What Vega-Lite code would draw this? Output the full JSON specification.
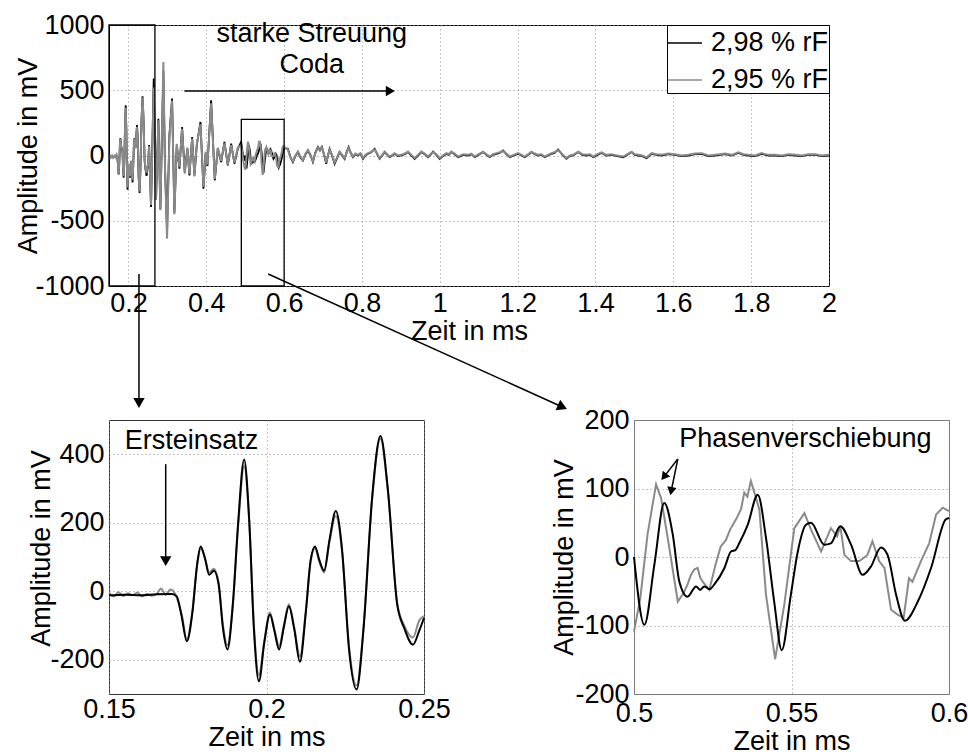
{
  "$schema": "https://vega.github.io/schema/vega-lite/v6.json",
  "padding": {"left": 13, "top": 10, "right": 0, "bottom": 0},
  "background": "white",
  "config": {
    "font": "Liberation Sans",
    "view": {"stroke": "black", "strokeWidth": 1},
    "axis": {
      "labelFont": "Liberation Sans", "titleFont": "Liberation Sans",
      "labelFontSize": 27, "titleFontSize": 27, "labelColor": "black", "titleColor": "black",
      "titleFontWeight": "normal", "domain": false, "ticks": false, "grid": true,
      "gridColor": "#888888", "gridDash": [1, 3], "gridWidth": 1, "labelPadding": 5,
      "labelFlush": false, "labelOverlap": false, "titleBaseline": "middle",
      "labelExpr": "'' + datum.value"
    }
  },
  "datasets": {
    "black": [
      {"t":0.150,"a":-12},{"t":0.155,"a":-10},{"t":0.160,"a":-12},{"t":0.165,"a":-9},{"t":0.170,"a":-8},{"t":0.1715,"a":-15},{"t":0.1730,"a":-70},{"t":0.1747,"a":-146},{"t":0.1765,"a":-60},{"t":0.1780,"a":80},{"t":0.1791,"a":131},{"t":0.1805,"a":95},{"t":0.1818,"a":48},{"t":0.1833,"a":60},{"t":0.1848,"a":20},{"t":0.1862,"a":-110},{"t":0.1876,"a":-170},{"t":0.1893,"a":-40},{"t":0.1910,"a":200},{"t":0.1929,"a":385},{"t":0.1945,"a":210},{"t":0.1960,"a":-110},{"t":0.1976,"a":-263},{"t":0.1993,"a":-150},{"t":0.2011,"a":-68},{"t":0.2025,"a":-115},{"t":0.2040,"a":-170},{"t":0.2055,"a":-105},{"t":0.2071,"a":-44},{"t":0.2088,"a":-110},{"t":0.2106,"a":-206},{"t":0.2125,"a":-60},{"t":0.2140,"a":90},{"t":0.2154,"a":131},{"t":0.2168,"a":90},{"t":0.2183,"a":60},{"t":0.2200,"a":150},{"t":0.2220,"a":234},{"t":0.2240,"a":120},{"t":0.2262,"a":-170},{"t":0.2286,"a":-287},{"t":0.2308,"a":-110},{"t":0.2335,"a":270},{"t":0.2362,"a":453},{"t":0.2385,"a":300},{"t":0.2415,"a":-39},{"t":0.2437,"a":-107},{"t":0.2465,"a":-156},{"t":0.2485,"a":-115},{"t":0.2500,"a":-78},
      {"t":0.2530,"a":80},{"t":0.2580,"a":-395},{"t":0.2649,"a":589},{"t":0.2709,"a":-331},{"t":0.2769,"a":282},{"t":0.2820,"a":-409},{"t":0.2897,"a":650},{"t":0.2940,"a":-101},{"t":0.2992,"a":-580},{"t":0.3052,"a":155},{"t":0.3121,"a":436},{"t":0.3180,"a":-437},{"t":0.3241,"a":78},{"t":0.3309,"a":-101},{"t":0.3378,"a":218},{"t":0.3446,"a":-126},{"t":0.3515,"a":52},{"t":0.3567,"a":-152},{"t":0.3636,"a":141},{"t":0.3695,"a":-152},{"t":0.3755,"a":78},{"t":0.3850,"a":257},{"t":0.3927,"a":-254},{"t":0.3985,"a":20},{"t":0.4030,"a":-80},{"t":0.4124,"a":423},{"t":0.4218,"a":-190},{"t":0.4296,"a":52},{"t":0.4381,"a":-50},{"t":0.4467,"a":104},{"t":0.4553,"a":-76},{"t":0.4638,"a":90},{"t":0.4724,"a":-63},{"t":0.4810,"a":52},{"t":0.4896,"a":104},{"t":0.4960,"a":-40},
      {"t":0.5000,"a":0},{"t":0.5033,"a":-99},{"t":0.5065,"a":-10},{"t":0.5096,"a":79},{"t":0.5123,"a":33},{"t":0.5144,"a":-36},{"t":0.5170,"a":-58},{"t":0.5197,"a":-43},{"t":0.5210,"a":-48},{"t":0.5223,"a":-43},{"t":0.5240,"a":-47},{"t":0.5255,"a":-40},{"t":0.5287,"a":-16},{"t":0.5308,"a":8},{"t":0.5322,"a":10},{"t":0.5334,"a":20},{"t":0.5361,"a":47},{"t":0.5393,"a":91},{"t":0.5419,"a":28},{"t":0.5445,"a":-65},{"t":0.5469,"a":-136},{"t":0.5498,"a":-55},{"t":0.5520,"a":8},{"t":0.5546,"a":47},{"t":0.5562,"a":50},{"t":0.5604,"a":18},{"t":0.5625,"a":20},{"t":0.5655,"a":45},{"t":0.5689,"a":18},{"t":0.5726,"a":-26},{"t":0.5752,"a":-14},{"t":0.5784,"a":14},{"t":0.5805,"a":3},{"t":0.5832,"a":-55},{"t":0.5860,"a":-93},{"t":0.5901,"a":-65},{"t":0.5943,"a":-16},{"t":0.5990,"a":55},{"t":0.6000,"a":57},
      {"t":0.6097,"a":52},{"t":0.6160,"a":-10},{"t":0.6225,"a":-50},{"t":0.6290,"a":-5},{"t":0.6354,"a":26},{"t":0.6420,"a":-15},{"t":0.6483,"a":-38},{"t":0.6550,"a":10},{"t":0.6611,"a":38},{"t":0.6680,"a":0},{"t":0.6740,"a":-50},{"t":0.6800,"a":20},{"t":0.6868,"a":65},{"t":0.6920,"a":40},{"t":0.6971,"a":65},{"t":0.7030,"a":0},{"t":0.7082,"a":-64},{"t":0.7120,"a":-10},{"t":0.7168,"a":51},{"t":0.7230,"a":0},{"t":0.7297,"a":-64},{"t":0.7360,"a":-20},{"t":0.7425,"a":26},{"t":0.7490,"a":0},{"t":0.7554,"a":-26},{"t":0.7600,"a":20},{"t":0.7657,"a":65},{"t":0.7710,"a":20},{"t":0.7768,"a":-13},{"t":0.7830,"a":10},{"t":0.7897,"a":0},{"t":0.7960,"a":15},{"t":0.8025,"a":-26},{"t":0.8090,"a":0},{"t":0.8154,"a":13},{"t":0.8240,"a":25},{"t":0.8325,"a":51},{"t":0.8390,"a":10},{"t":0.8454,"a":-26},{"t":0.8520,"a":0},{"t":0.8583,"a":26},{"t":0.8650,"a":5},{"t":0.8711,"a":-13},{"t":0.8780,"a":0},{"t":0.8840,"a":13},{"t":0.8920,"a":-5},{"t":0.9011,"a":0},{"t":0.9100,"a":10},{"t":0.9183,"a":26},{"t":0.9270,"a":0},{"t":0.9354,"a":-26},{"t":0.9440,"a":0},{"t":0.9526,"a":26},{"t":0.9610,"a":10},{"t":0.9697,"a":-13},{"t":0.9760,"a":5},{"t":0.9826,"a":30},{"t":0.9910,"a":5},{"t":0.9997,"a":-26},{"t":1.0080,"a":-5},{"t":1.0169,"a":13},{"t":1.0230,"a":5},{"t":1.0297,"a":26},{"t":1.0380,"a":10},{"t":1.0469,"a":-13},{"t":1.0600,"a":5},{"t":1.0726,"a":0},{"t":1.0810,"a":10},{"t":1.0897,"a":-13},{"t":1.1000,"a":5},{"t":1.1111,"a":26},{"t":1.1200,"a":5},{"t":1.1283,"a":-13},{"t":1.1370,"a":5},{"t":1.1454,"a":13},{"t":1.1540,"a":20},{"t":1.1626,"a":38},{"t":1.1710,"a":10},{"t":1.1797,"a":-13},{"t":1.1900,"a":0},{"t":1.2011,"a":13},{"t":1.2100,"a":0},{"t":1.2183,"a":-13},{"t":1.2270,"a":5},{"t":1.2354,"a":26},{"t":1.2440,"a":10},{"t":1.2526,"a":0},{"t":1.2610,"a":5},{"t":1.2697,"a":-13},{"t":1.2780,"a":0},{"t":1.2868,"a":13},{"t":1.2950,"a":20},{"t":1.3040,"a":46},{"t":1.3150,"a":5},{"t":1.3254,"a":-26},{"t":1.3340,"a":-5},{"t":1.3426,"a":0},{"t":1.3556,"a":26},{"t":1.3660,"a":5},{"t":1.3771,"a":0},{"t":1.3860,"a":5},{"t":1.3942,"a":-13},{"t":1.4050,"a":5},{"t":1.4156,"a":20},{"t":1.4280,"a":0},{"t":1.4414,"a":5},{"t":1.4560,"a":-5},{"t":1.4714,"a":-13},{"t":1.4820,"a":5},{"t":1.4928,"a":26},{"t":1.5010,"a":5},{"t":1.5100,"a":0},{"t":1.5200,"a":-5},{"t":1.5314,"a":-20},{"t":1.5443,"a":13},{"t":1.5570,"a":5},{"t":1.5700,"a":0},{"t":1.5870,"a":10},{"t":1.6043,"a":5},{"t":1.6210,"a":-5},{"t":1.6386,"a":0},{"t":1.6560,"a":10},{"t":1.6729,"a":13},{"t":1.6900,"a":-5},{"t":1.7072,"a":0},{"t":1.7200,"a":5},{"t":1.7329,"a":10},{"t":1.7500,"a":0},{"t":1.7672,"a":20},{"t":1.7800,"a":5},{"t":1.7929,"a":0},{"t":1.8100,"a":-5},{"t":1.8272,"a":13},{"t":1.8440,"a":0},{"t":1.8615,"a":0},{"t":1.8790,"a":-5},{"t":1.8958,"a":5},{"t":1.9130,"a":0},{"t":1.9301,"a":-5},{"t":1.9470,"a":5},{"t":1.9644,"a":5},{"t":1.9820,"a":-5},{"t":2.0000,"a":0}
    ],
    "gray": [
      {"t":0.150,"a":-5},{"t":0.1515,"a":-15},{"t":0.153,"a":-3},{"t":0.1545,"a":-14},{"t":0.156,"a":-6},{"t":0.1575,"a":-12},{"t":0.159,"a":-4},{"t":0.1605,"a":-15},{"t":0.162,"a":-8},{"t":0.1635,"a":-13},{"t":0.165,"a":-10},{"t":0.1665,"a":8},{"t":0.168,"a":-10},{"t":0.1695,"a":5},{"t":0.171,"a":-8},{"t":0.1730,"a":-65},{"t":0.1747,"a":-140},{"t":0.1765,"a":-55},{"t":0.1780,"a":78},{"t":0.1791,"a":125},{"t":0.1805,"a":95},{"t":0.1818,"a":55},{"t":0.1833,"a":66},{"t":0.1848,"a":25},{"t":0.1862,"a":-100},{"t":0.1876,"a":-158},{"t":0.1893,"a":-40},{"t":0.1910,"a":190},{"t":0.1929,"a":365},{"t":0.1945,"a":205},{"t":0.1960,"a":-100},{"t":0.1976,"a":-245},{"t":0.1993,"a":-145},{"t":0.2011,"a":-62},{"t":0.2025,"a":-112},{"t":0.2040,"a":-160},{"t":0.2055,"a":-100},{"t":0.2071,"a":-38},{"t":0.2088,"a":-105},{"t":0.2106,"a":-190},{"t":0.2125,"a":-55},{"t":0.2140,"a":85},{"t":0.2154,"a":125},{"t":0.2168,"a":85},{"t":0.2183,"a":55},{"t":0.2200,"a":145},{"t":0.2220,"a":220},{"t":0.2240,"a":115},{"t":0.2262,"a":-160},{"t":0.2286,"a":-275},{"t":0.2308,"a":-105},{"t":0.2335,"a":265},{"t":0.2362,"a":445},{"t":0.2385,"a":295},{"t":0.2415,"a":-35},{"t":0.2437,"a":-100},{"t":0.2465,"a":-135},{"t":0.2485,"a":-85},{"t":0.2500,"a":-73},
      {"t":0.2530,"a":70},{"t":0.2580,"a":-380},{"t":0.2649,"a":520},{"t":0.2709,"a":-340},{"t":0.2769,"a":270},{"t":0.2820,"a":-420},{"t":0.2897,"a":716},{"t":0.2940,"a":-120},{"t":0.2992,"a":-637},{"t":0.3052,"a":140},{"t":0.3121,"a":420},{"t":0.3180,"a":-450},{"t":0.3241,"a":90},{"t":0.3309,"a":-90},{"t":0.3378,"a":205},{"t":0.3446,"a":-140},{"t":0.3515,"a":60},{"t":0.3567,"a":-140},{"t":0.3636,"a":130},{"t":0.3695,"a":-160},{"t":0.3755,"a":85},{"t":0.3850,"a":240},{"t":0.3927,"a":-240},{"t":0.3985,"a":30},{"t":0.4030,"a":-70},{"t":0.4124,"a":400},{"t":0.4218,"a":-180},{"t":0.4296,"a":60},{"t":0.4381,"a":-40},{"t":0.4467,"a":95},{"t":0.4553,"a":-70},{"t":0.4638,"a":80},{"t":0.4724,"a":-55},{"t":0.4810,"a":60},{"t":0.4896,"a":80},{"t":0.4960,"a":-60},
      {"t":0.5000,"a":-109},{"t":0.5020,"a":-60},{"t":0.5043,"a":33},{"t":0.5070,"a":106},{"t":0.5086,"a":86},{"t":0.5107,"a":28},{"t":0.5139,"a":-65},{"t":0.5157,"a":-53},{"t":0.5170,"a":-40},{"t":0.5181,"a":-26},{"t":0.5192,"a":-18},{"t":0.5202,"a":-16},{"t":0.5210,"a":-30},{"t":0.5218,"a":-36},{"t":0.5239,"a":-48},{"t":0.5260,"a":-9},{"t":0.5275,"a":15},{"t":0.5292,"a":25},{"t":0.5305,"a":40},{"t":0.5324,"a":55},{"t":0.5340,"a":70},{"t":0.5350,"a":94},{"t":0.5360,"a":88},{"t":0.5371,"a":111},{"t":0.5385,"a":90},{"t":0.5398,"a":69},{"t":0.5419,"a":-55},{"t":0.5448,"a":-149},{"t":0.5477,"a":-70},{"t":0.5509,"a":42},{"t":0.5541,"a":64},{"t":0.5562,"a":40},{"t":0.5594,"a":8},{"t":0.5625,"a":42},{"t":0.5645,"a":30},{"t":0.5655,"a":45},{"t":0.5668,"a":3},{"t":0.5689,"a":-6},{"t":0.5716,"a":-6},{"t":0.5741,"a":3},{"t":0.5757,"a":23},{"t":0.5778,"a":-6},{"t":0.5795,"a":-16},{"t":0.5816,"a":-77},{"t":0.5837,"a":-84},{"t":0.5856,"a":-89},{"t":0.5873,"a":-31},{"t":0.5884,"a":-36},{"t":0.5911,"a":-6},{"t":0.5937,"a":20},{"t":0.5959,"a":62},{"t":0.5980,"a":72},{"t":0.6000,"a":67},
      {"t":0.6097,"a":45},{"t":0.6160,"a":-15},{"t":0.6225,"a":-45},{"t":0.6290,"a":0},{"t":0.6354,"a":30},{"t":0.6420,"a":-10},{"t":0.6483,"a":-35},{"t":0.6550,"a":15},{"t":0.6611,"a":42},{"t":0.6680,"a":5},{"t":0.6740,"a":-45},{"t":0.6800,"a":15},{"t":0.6868,"a":60},{"t":0.6920,"a":35},{"t":0.6971,"a":60},{"t":0.7030,"a":5},{"t":0.7082,"a":-55},{"t":0.7120,"a":-5},{"t":0.7168,"a":45},{"t":0.7230,"a":5},{"t":0.7297,"a":-55},{"t":0.7360,"a":-15},{"t":0.7425,"a":30},{"t":0.7490,"a":5},{"t":0.7554,"a":-20},{"t":0.7600,"a":15},{"t":0.7657,"a":58},{"t":0.7710,"a":25},{"t":0.7768,"a":-8},{"t":0.7830,"a":15},{"t":0.7897,"a":5},{"t":0.7960,"a":18},{"t":0.8025,"a":-20},{"t":0.8090,"a":5},{"t":0.8154,"a":18},{"t":0.8240,"a":28},{"t":0.8325,"a":45},{"t":0.8390,"a":15},{"t":0.8454,"a":-20},{"t":0.8520,"a":5},{"t":0.8583,"a":30},{"t":0.8650,"a":8},{"t":0.8711,"a":-8},{"t":0.8780,"a":5},{"t":0.8840,"a":18},{"t":0.8920,"a":0},{"t":0.9011,"a":5},{"t":0.9100,"a":15},{"t":0.9183,"a":30},{"t":0.9270,"a":5},{"t":0.9354,"a":-20},{"t":0.9440,"a":5},{"t":0.9526,"a":30},{"t":0.9610,"a":15},{"t":0.9697,"a":-8},{"t":0.9760,"a":10},{"t":0.9826,"a":26},{"t":0.9910,"a":10},{"t":0.9997,"a":-20},{"t":1.0080,"a":0},{"t":1.0169,"a":18},{"t":1.0230,"a":10},{"t":1.0297,"a":30},{"t":1.0380,"a":15},{"t":1.0469,"a":-8},{"t":1.0600,"a":10},{"t":1.0726,"a":5},{"t":1.0810,"a":15},{"t":1.0897,"a":-8},{"t":1.1000,"a":10},{"t":1.1111,"a":30},{"t":1.1200,"a":10},{"t":1.1283,"a":-8},{"t":1.1370,"a":10},{"t":1.1454,"a":18},{"t":1.1540,"a":25},{"t":1.1626,"a":34},{"t":1.1710,"a":15},{"t":1.1797,"a":-8},{"t":1.1900,"a":5},{"t":1.2011,"a":18},{"t":1.2100,"a":5},{"t":1.2183,"a":-8},{"t":1.2270,"a":10},{"t":1.2354,"a":30},{"t":1.2440,"a":15},{"t":1.2526,"a":5},{"t":1.2610,"a":10},{"t":1.2697,"a":-8},{"t":1.2780,"a":5},{"t":1.2868,"a":18},{"t":1.2950,"a":25},{"t":1.3040,"a":40},{"t":1.3150,"a":10},{"t":1.3254,"a":-20},{"t":1.3340,"a":0},{"t":1.3426,"a":5},{"t":1.3556,"a":30},{"t":1.3660,"a":10},{"t":1.3771,"a":5},{"t":1.3860,"a":10},{"t":1.3942,"a":-8},{"t":1.4050,"a":10},{"t":1.4156,"a":24},{"t":1.4280,"a":5},{"t":1.4414,"a":10},{"t":1.4560,"a":0},{"t":1.4714,"a":-8},{"t":1.4820,"a":10},{"t":1.4928,"a":28},{"t":1.5010,"a":10},{"t":1.5100,"a":5},{"t":1.5200,"a":0},{"t":1.5314,"a":-14},{"t":1.5443,"a":18},{"t":1.5570,"a":10},{"t":1.5700,"a":5},{"t":1.5870,"a":15},{"t":1.6043,"a":10},{"t":1.6210,"a":0},{"t":1.6386,"a":5},{"t":1.6560,"a":15},{"t":1.6729,"a":18},{"t":1.6900,"a":0},{"t":1.7072,"a":5},{"t":1.7200,"a":10},{"t":1.7329,"a":15},{"t":1.7500,"a":5},{"t":1.7672,"a":24},{"t":1.7800,"a":10},{"t":1.7929,"a":5},{"t":1.8100,"a":0},{"t":1.8272,"a":18},{"t":1.8440,"a":5},{"t":1.8615,"a":5},{"t":1.8790,"a":0},{"t":1.8958,"a":10},{"t":1.9130,"a":5},{"t":1.9301,"a":0},{"t":1.9470,"a":10},{"t":1.9644,"a":10},{"t":1.9820,"a":0},{"t":2.0000,"a":5}
    ]
  },
  "bounds": "flush",
  "spacing": 134,
  "resolve": {"scale": {"color": "independent"}, "legend": {"color": "independent"}},
  "vconcat": [
    {
      "width": 720,
      "height": 261,
      "view": {"stroke": "black"},
      "encoding": {
        "x": {"field": "t", "type": "quantitative",
              "scale": {"domain": [0.15, 2], "nice": false, "zero": false},
              "axis": {"title": "Zeit in ms", "values": [0.2,0.4,0.6,0.8,1,1.2,1.4,1.6,1.8,2], "titleY": 45, "labelPadding": 4}},
        "y": {"field": "a", "type": "quantitative",
              "scale": {"domain": [-1000, 1000], "nice": false},
              "axis": {"title": "Amplitude in mV", "values": [-1000,-500,0,500,1000], "titleX": -81}}
      },
      "layer": [
        {
          "data": {"name": "black"},
          "mark": {"type": "line", "strokeWidth": 1.8},
          "encoding": {
            "color": {"datum": "2,98 % rF", "type": "nominal",
                      "scale": {"domain": ["2,98 % rF", "2,95 % rF"], "range": ["#000000", "#8a8a8a"]},
                      "legend": {"orient": "top-right", "offset": 0, "title": null, "symbolType": "M-1,0H1",
                                 "symbolSize": 1156, "symbolStrokeWidth": 1.5, "labelFontSize": 27,
                                 "labelFont": "Liberation Sans", "labelColor": "black", "strokeColor": "black",
                                 "fillColor": "white", "padding": 0, "rowPadding": 6, "labelOffset": 8,
                                 "labelLimit": 400}}
          }
        },
        {
          "data": {"name": "gray"},
          "mark": {"type": "line", "strokeWidth": 2},
          "encoding": {"color": {"datum": "2,95 % rF", "type": "nominal"}}
        },
        {
          "data": {"values": [
            {"t": 0.15, "t2": 0.268, "a": -1000, "a2": 1000},
            {"t": 0.49, "t2": 0.6, "a": -1000, "a2": 277}
          ]},
          "mark": {"type": "rect", "fill": null, "fillOpacity": 0, "stroke": "black", "strokeWidth": 1.3},
          "encoding": {"x2": {"field": "t2"}, "y2": {"field": "a2"}}
        },
        {
          "data": {"values": [
            {"t": 0.3437, "a": 494, "t2": 0.873, "a2": 494},
            {"t": 0.227, "a": -908, "t2": 0.227, "a2": -1897},
            {"t": 0.559, "a": -908, "t2": 1.315, "a2": -1927}
          ]},
          "mark": {"type": "rule", "color": "black", "strokeWidth": 1.5},
          "encoding": {"x2": {"field": "t2"}, "y2": {"field": "a2"}}
        },
        {
          "data": {"values": [{"t": 0.873, "a": 494}]},
          "mark": {"type": "point", "shape": "triangle-right", "filled": true, "color": "black", "opacity": 1, "size": 110},
          "encoding": {}
        },
        {
          "data": {"values": [{"t": 0.227, "a": -1897}]},
          "mark": {"type": "point", "shape": "triangle-down", "filled": true, "color": "black", "opacity": 1, "size": 130},
          "encoding": {}
        },
        {
          "data": {"values": [{"t": 1.315, "a": -1927}]},
          "mark": {"type": "point", "shape": "triangle-up", "angle": 114, "filled": true, "color": "black", "opacity": 1, "size": 130},
          "encoding": {}
        },
        {
          "data": {"values": [
            {"t": 0.671, "a": 933, "label": "starke Streuung"},
            {"t": 0.671, "a": 693, "label": "Coda"}
          ]},
          "mark": {"type": "text", "fontSize": 27, "font": "Liberation Sans", "color": "black", "align": "center", "baseline": "middle"},
          "encoding": {"text": {"field": "label"}}
        }
      ]
    },
    {
      "bounds": "flush",
      "spacing": 210,
      "hconcat": [
        {
          "width": 315,
          "height": 274,
          "view": {"stroke": "#333333"},
          "encoding": {
            "x": {"field": "t", "type": "quantitative",
                  "scale": {"domain": [0.15, 0.25], "nice": false, "zero": false},
                  "axis": {"title": "Zeit in ms", "values": [0.15, 0.2, 0.25], "titleY": 43, "labelPadding": 2}},
            "y": {"field": "a", "type": "quantitative",
                  "scale": {"domain": [-300, 500], "nice": false},
                  "axis": {"title": "Amplitude in mV", "values": [-200, 0, 200, 400], "titleX": -68, "titleY": 128}}
          },
          "layer": [
            {
              "data": {"name": "gray"},
              "transform": [{"filter": "datum.t <= 0.2501"}],
              "mark": {"type": "line", "strokeWidth": 2, "interpolate": "monotone"},
              "encoding": {"color": {"datum": "2,95 % rF", "type": "nominal",
                           "scale": {"domain": ["2,98 % rF", "2,95 % rF"], "range": ["#000000", "#8a8a8a"]}, "legend": null}}
            },
            {
              "data": {"name": "black"},
              "transform": [{"filter": "datum.t <= 0.2501"}],
              "mark": {"type": "line", "strokeWidth": 2, "interpolate": "monotone"},
              "encoding": {"color": {"datum": "2,98 % rF", "type": "nominal", "legend": null}}
            },
            {
              "data": {"values": [{"t": 0.168, "a": 371, "t2": 0.168, "a2": 90}]},
              "mark": {"type": "rule", "color": "black", "strokeWidth": 1.5},
              "encoding": {"x2": {"field": "t2"}, "y2": {"field": "a2"}}
            },
            {
              "data": {"values": [{"t": 0.168, "a": 88}]},
              "mark": {"type": "point", "shape": "triangle-down", "filled": true, "color": "black", "opacity": 1, "size": 130},
              "encoding": {}
            },
            {
              "data": {"values": [{"t": 0.1762, "a": 438, "label": "Ersteinsatz"}]},
              "mark": {"type": "text", "fontSize": 27, "font": "Liberation Sans", "color": "black", "align": "center", "baseline": "middle"},
              "encoding": {"text": {"field": "label"}}
            }
          ]
        },
        {
          "width": 315,
          "height": 274,
          "view": {"stroke": "#777777"},
          "encoding": {
            "x": {"field": "t", "type": "quantitative",
                  "scale": {"domain": [0.5, 0.6], "nice": false, "zero": false},
                  "axis": {"title": "Zeit in ms", "values": [0.5, 0.55, 0.6], "titleY": 47, "labelPadding": 6}},
            "y": {"field": "a", "type": "quantitative",
                  "scale": {"domain": [-200, 200], "nice": false},
                  "axis": {"title": "Amplitude in mV", "values": [-200, -100, 0, 100, 200], "titleX": -70}}
          },
          "layer": [
            {
              "data": {"name": "gray"},
              "transform": [{"filter": "datum.t >= 0.4999 && datum.t <= 0.6001"}],
              "mark": {"type": "line", "strokeWidth": 2},
              "encoding": {"color": {"datum": "2,95 % rF", "type": "nominal",
                           "scale": {"domain": ["2,98 % rF", "2,95 % rF"], "range": ["#000000", "#8a8a8a"]}, "legend": null}}
            },
            {
              "data": {"name": "black"},
              "transform": [{"filter": "datum.t >= 0.4999 && datum.t <= 0.6001"}],
              "mark": {"type": "line", "strokeWidth": 2, "interpolate": "monotone"},
              "encoding": {"color": {"datum": "2,98 % rF", "type": "nominal", "legend": null}}
            },
            {
              "data": {"values": [
                {"t": 0.5139, "a": 143, "t2": 0.5095, "a2": 117},
                {"t": 0.5139, "a": 143, "t2": 0.5118, "a2": 96}
              ]},
              "mark": {"type": "rule", "color": "black", "strokeWidth": 1.5},
              "encoding": {"x2": {"field": "t2"}, "y2": {"field": "a2"}}
            },
            {
              "data": {"values": [{"t": 0.5095, "a": 117}]},
              "mark": {"type": "point", "shape": "triangle-up", "angle": 218, "filled": true, "color": "black", "opacity": 1, "size": 90},
              "encoding": {}
            },
            {
              "data": {"values": [{"t": 0.5118, "a": 96}]},
              "mark": {"type": "point", "shape": "triangle-up", "angle": 191, "filled": true, "color": "black", "opacity": 1, "size": 90},
              "encoding": {}
            },
            {
              "data": {"values": [{"t": 0.5544, "a": 172, "label": "Phasenverschiebung"}]},
              "mark": {"type": "text", "fontSize": 27, "font": "Liberation Sans", "color": "black", "align": "center", "baseline": "middle"},
              "encoding": {"text": {"field": "label"}}
            }
          ]
        }
      ]
    }
  ]
}
